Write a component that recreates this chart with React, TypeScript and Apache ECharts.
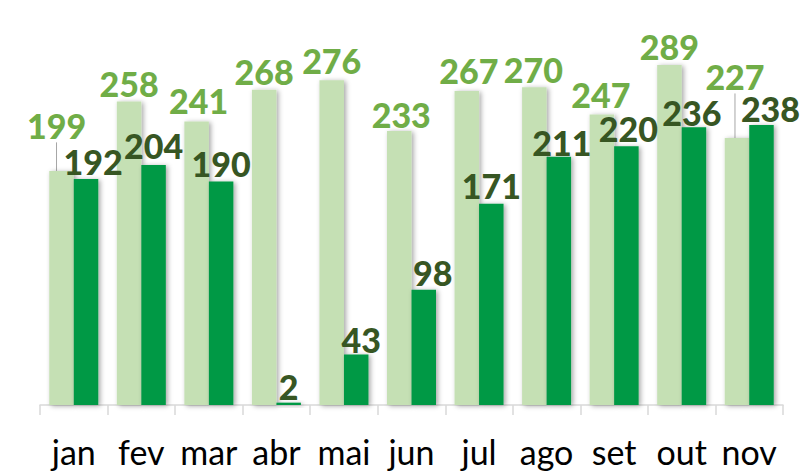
import React, { useEffect, useRef } from "react";
import * as echarts from "echarts";

const categories = ["jan", "fev", "mar", "abr", "mai", "jun", "jul", "ago", "set", "out", "nov"];
const seriesLight = [199, 258, 241, 268, 276, 233, 267, 270, 247, 289, 227];
const seriesDark = [192, 204, 190, 2, 43, 98, 171, 211, 220, 236, 238];

// label nudges (dx, dy) in pixels, as placed in the reference
const lightNudgeX = [-5, 0, 2, 0, 0, 2, 2, -1, -1, 0, -2];
const lightNudgeY = [-27, 1, -2, 0, -1, 2, -2, 1, -1, 0, -43];
const darkNudgeX = [7, 0, 0, 0, 5, 9, 0, 3, 2, -2, 9];
const darkNudgeY = [1, -1, 1, 2, 4, 1, 0, 4, 1, 4, 2];
const leaderLight = [true, false, false, false, false, false, false, false, false, false, true];

export default function App() {
  const ref = useRef<HTMLDivElement>(null);
  useEffect(() => {
    document.body.style.margin = "0";
    const chart = echarts.init(ref.current!, null, { renderer: "svg" });
    const font = "Lato, 'Open Sans', sans-serif";
    const shadow = {
      shadowColor: "rgba(0,0,0,0.35)",
      shadowBlur: 5,
      shadowOffsetX: 2,
      shadowOffsetY: 1,
    };
    const labelBase = {
      show: true,
      position: "top",
      distance: 6,
      fontSize: 34,
      lineHeight: 25,
      fontWeight: 900,
      fontFamily: font,
    };
    chart.setOption({
      animation: false,
      grid: { left: 40, right: 19, top: 5, bottom: 67 },
      xAxis: {
        type: "category",
        data: categories,
        axisLine: { lineStyle: { color: "#d9d9d9", width: 1.5 } },
        axisTick: { show: true, length: 10, lineStyle: { color: "#d9d9d9", width: 1.5 } },
        axisLabel: { color: "#000", fontSize: 34, fontFamily: font, margin: 29, interval: 0 },
      },
      yAxis: {
        type: "value",
        min: 0,
        max: 340,
        show: false,
        splitLine: { show: false },
      },
      series: [
        {
          type: "bar",
          barWidth: 24.5,
          barGap: "0%",
          data: seriesLight.map((v, i) => ({
            value: v,
            labelLine: { show: leaderLight[i], lineStyle: { color: "#a6a6a6", width: 1 } },
          })),
          itemStyle: { color: "#c5e0b4", ...shadow },
          label: { ...labelBase, color: "#70ad47" },
          labelLayout: (p: any) => ({ dx: lightNudgeX[p.dataIndex], dy: lightNudgeY[p.dataIndex] }),
        },
        {
          type: "bar",
          barWidth: 24.5,
          barGap: "0%",
          data: seriesDark,
          itemStyle: { color: "#009944", ...shadow },
          label: { ...labelBase, color: "#375623" },
          labelLayout: (p: any) => ({ dx: darkNudgeX[p.dataIndex], dy: darkNudgeY[p.dataIndex] }),
        },
      ],
    });
    return () => chart.dispose();
  }, []);
  return <div ref={ref} style={{ width: 802, height: 472 }} />;
}
